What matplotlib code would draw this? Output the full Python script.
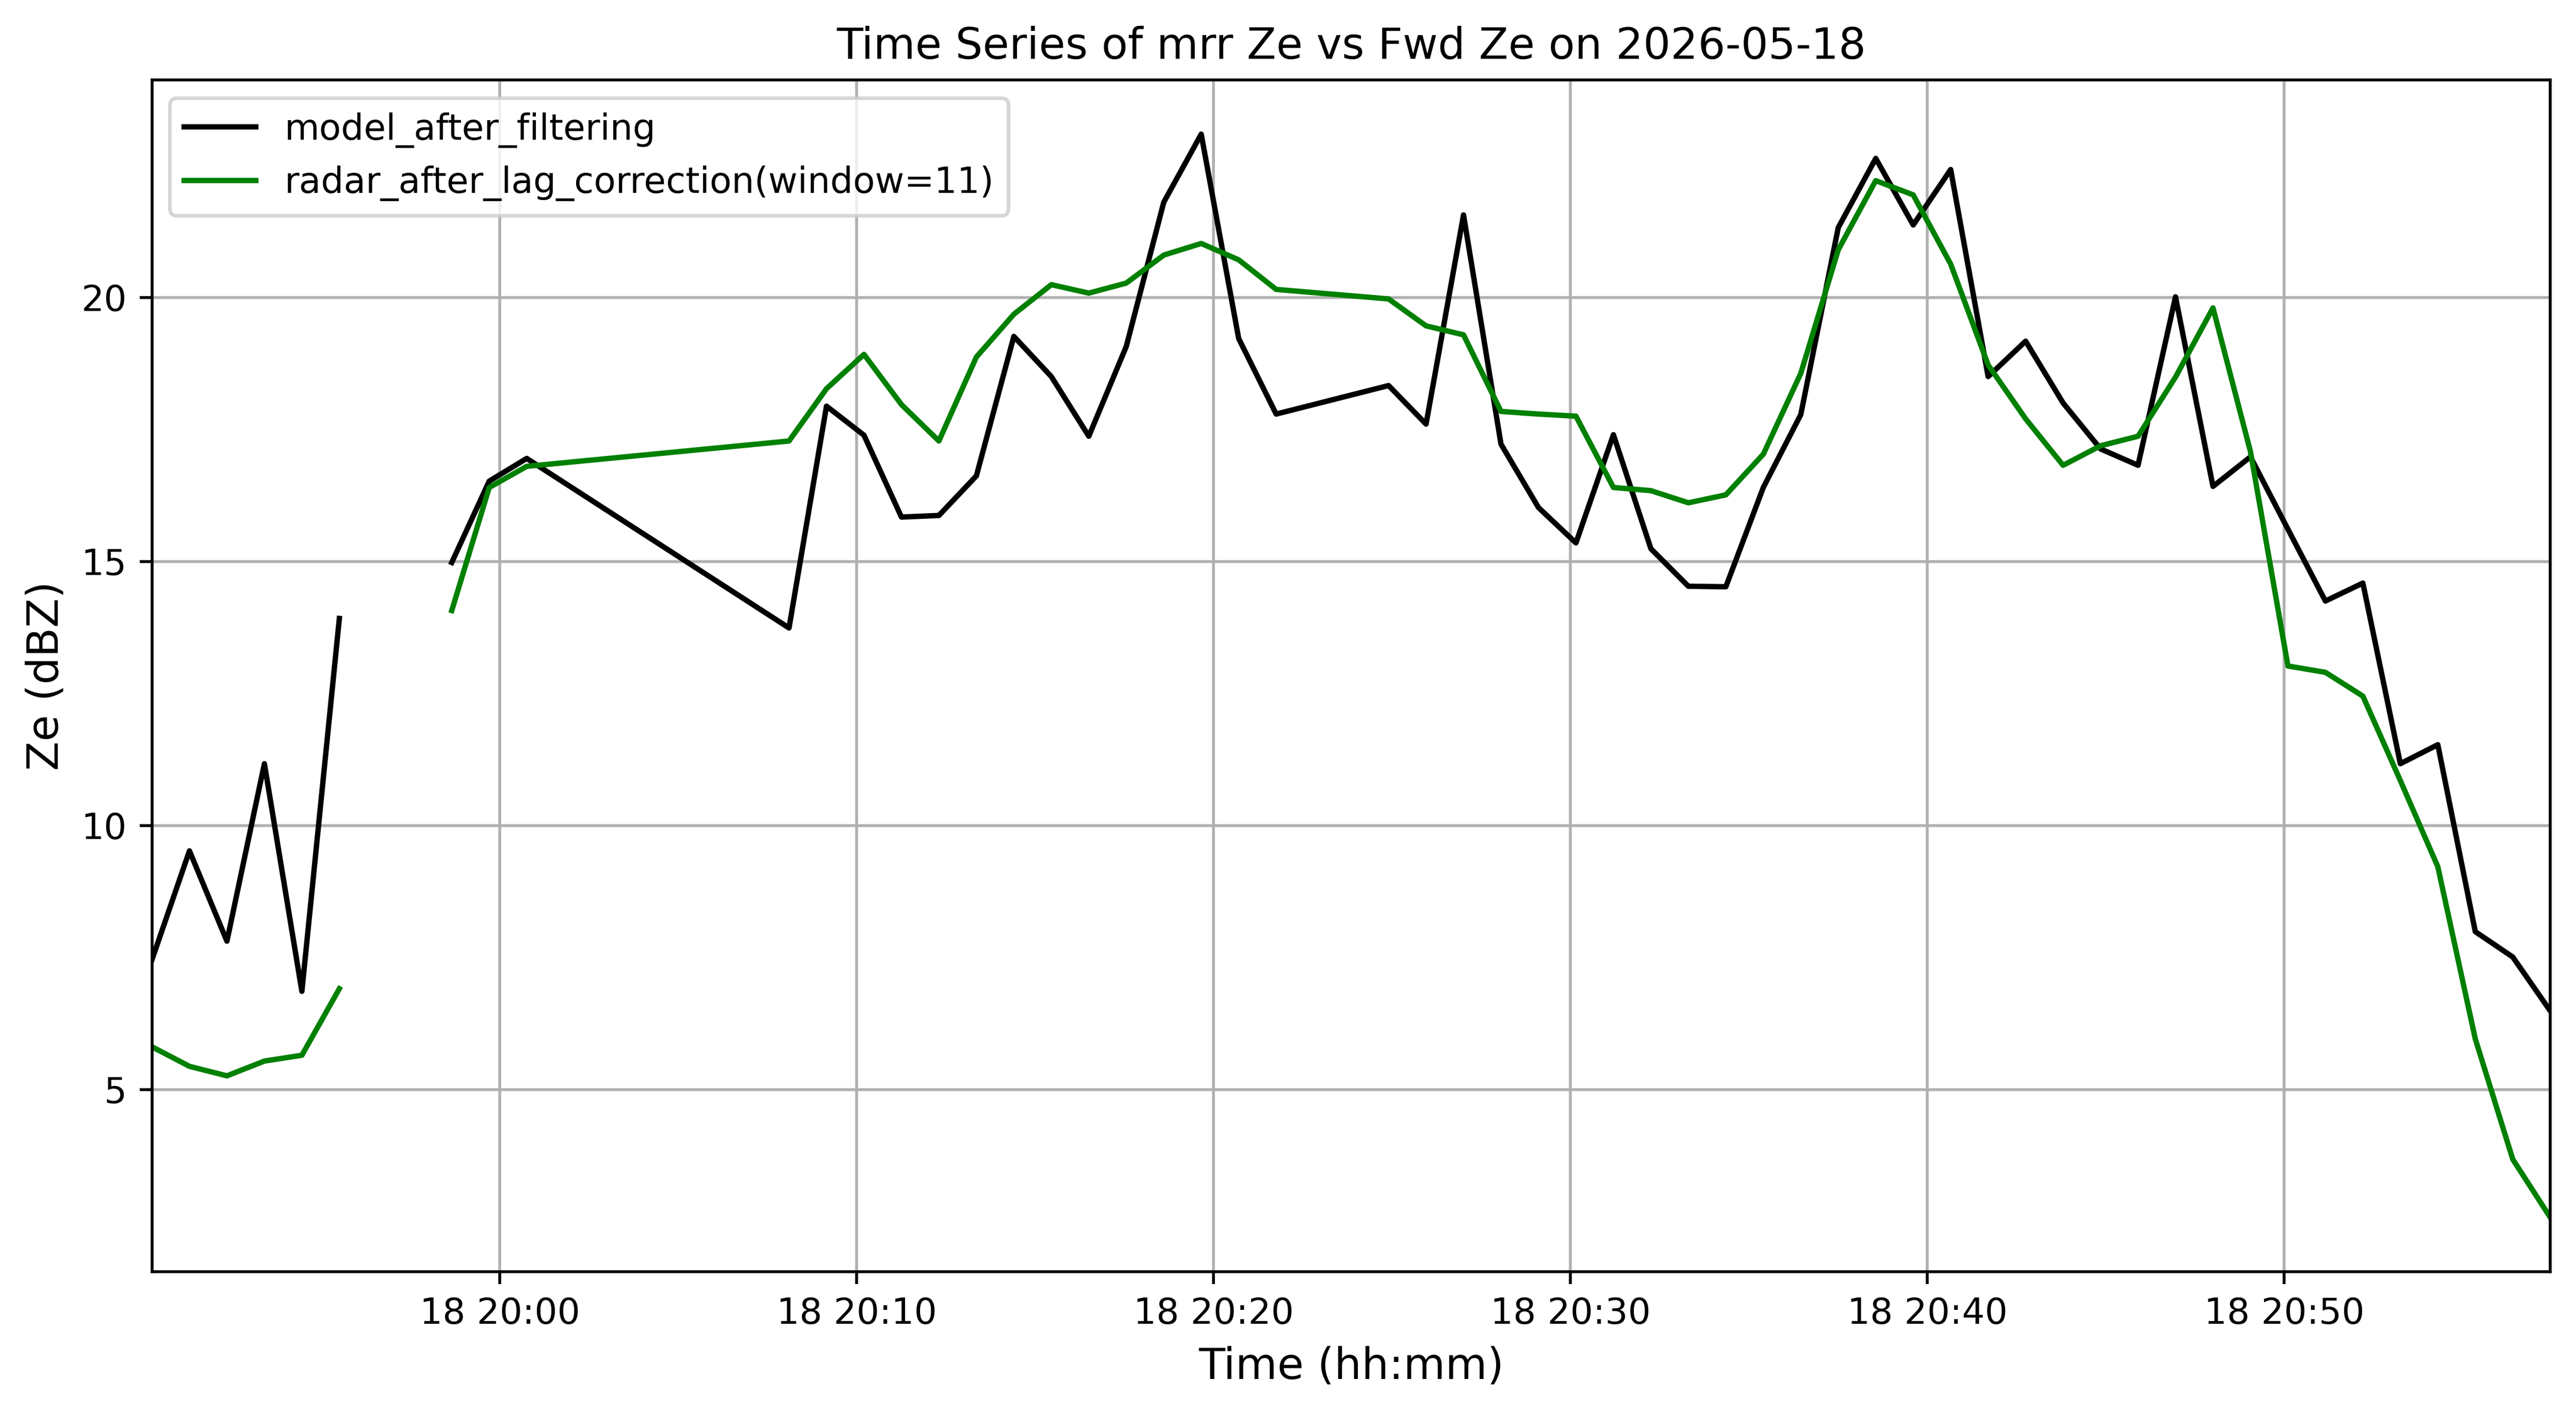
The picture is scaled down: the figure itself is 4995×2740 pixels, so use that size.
import matplotlib
matplotlib.use("Agg")
import matplotlib.pyplot as plt
import numpy as np
import pandas as pd

date_str = "2026-05-18"

times = ["19:50:15", "19:51:18", "19:52:21", "19:53:24", "19:54:27", "19:55:30",
         "19:56:33", "19:57:36",
         "19:58:39", "19:59:42", "20:00:45",
         "20:08:06", "20:09:09", "20:10:12", "20:11:15", "20:12:18", "20:13:21",
         "20:14:24", "20:15:27", "20:16:30", "20:17:33", "20:18:36", "20:19:39",
         "20:20:42", "20:21:45",
         "20:24:54", "20:25:57", "20:27:00", "20:28:03", "20:29:06", "20:30:09",
         "20:31:12", "20:32:15", "20:33:18", "20:34:21", "20:35:24", "20:36:27",
         "20:37:30", "20:38:33", "20:39:36", "20:40:39", "20:41:42", "20:42:45",
         "20:43:48", "20:44:51", "20:45:54", "20:46:57", "20:48:00", "20:49:03",
         "20:50:06", "20:51:09", "20:52:12", "20:53:15", "20:54:18", "20:55:21",
         "20:56:24", "20:57:27"]

model_ze = [7.46, 9.52, 7.81, 11.17, 6.86, 13.92,
            np.nan, np.nan,
            14.98, 16.52, 16.95,
            13.74, 17.94, 17.39, 15.84, 15.87, 16.62,
            19.26, 18.50, 17.37, 19.07, 21.80, 23.09,
            19.22, 17.79,
            18.33, 17.60, 21.56, 17.22, 16.02, 15.35,
            17.40, 15.24, 14.53, 14.52, 16.40, 17.78,
            21.32, 22.63, 21.37, 22.42, 18.50, 19.17,
            18.00, 17.13, 16.82, 20.01, 16.42, 16.98,
            15.61, 14.25, 14.59, 11.17, 11.53, 7.99,
            7.51, 6.49]

radar_ze = [5.81, 5.44, 5.26, 5.54, 5.65, 6.91,
            np.nan, np.nan,
            14.07, 16.40, 16.80,
            17.28, 18.27, 18.92, 17.97, 17.28, 18.87,
            19.68, 20.24, 20.08, 20.27, 20.80, 21.02,
            20.71, 20.15,
            19.97, 19.46, 19.29, 17.84, 17.79, 17.75,
            16.40, 16.34, 16.11, 16.26, 17.03, 18.56,
            20.90, 22.21, 21.94, 20.63, 18.72, 17.70,
            16.82, 17.19, 17.37, 18.49, 19.80, 17.08,
            13.02, 12.90, 12.45, 10.85, 9.22, 5.96,
            3.68, 2.58]

t = pd.to_datetime([date_str + " " + s for s in times])

fig, ax = plt.subplots(figsize=(9.99, 5.48), dpi=500)
fig.subplots_adjust(left=0.059, right=0.990, top=0.9434, bottom=0.1001)

ax.plot(t, model_ze, color="black", label="model_after_filtering")
ax.plot(t, radar_ze, color="green", label="radar_after_lag_correction(window=11)")

ax.set_xlim(t[0], t[-1])
ax.set_title("Time Series of mrr Ze vs Fwd Ze on " + date_str, fontsize=12)
ax.set_xlabel("Time (hh:mm)", fontsize=12)
ax.set_ylabel("Ze (dBZ)", fontsize=12)
ax.grid(True)
ax.legend(loc="upper left")

fig.savefig("out.png", dpi=500)
